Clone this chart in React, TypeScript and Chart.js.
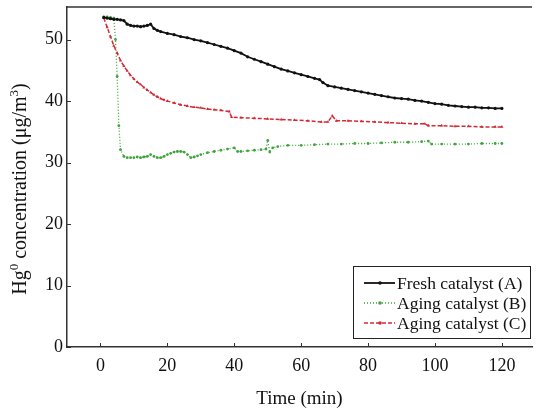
import React, { useEffect, useRef } from "react";
import { Chart, registerables } from "chart.js";

Chart.register(...registerables);

const xTicks = [0, 20, 40, 60, 80, 100, 120];
const yTicks = [0, 10, 20, 30, 40, 50];

const freshX = [1, 2, 3, 4, 5, 6, 7, 8, 9, 10, 11, 12, 13, 14, 15, 16, 17, 18, 20, 22, 24, 26, 28, 30, 32, 34, 36, 38, 40, 42, 44, 46, 48, 50, 52, 54, 56, 58, 60, 62, 64, 65.5, 66.5, 68, 70, 72, 74, 76, 78, 80, 82, 84, 86, 88, 90, 92, 94, 96, 98, 100, 102, 104, 106, 108, 110, 112, 114, 116, 118, 120];
const freshY = [53.6, 53.5, 53.4, 53.3, 53.3, 53.2, 53.1, 52.5, 52.3, 52.2, 52.2, 52.1, 52.2, 52.3, 52.5, 51.8, 51.5, 51.3, 51.0, 50.8, 50.5, 50.3, 50.0, 49.8, 49.5, 49.2, 48.9, 48.6, 48.2, 47.8, 47.2, 46.8, 46.4, 46.0, 45.6, 45.2, 44.9, 44.6, 44.3, 44.0, 43.7, 43.5, 43.0, 42.5, 42.3, 42.1, 41.9, 41.7, 41.5, 41.3, 41.1, 40.9, 40.7, 40.5, 40.4, 40.3, 40.1, 40.0, 39.8, 39.6, 39.5, 39.3, 39.2, 39.1, 39.0, 39.0, 38.9, 38.9, 38.8, 38.8];

const agingBX = [1, 2, 3, 4, 4.5, 5, 5.5, 6, 7, 8, 9, 10, 11, 12, 13, 14, 15, 16, 17, 18, 19, 20, 21, 22, 23, 24, 25, 26, 27, 28, 29, 30, 32, 34, 36, 38, 40, 41, 42, 44, 46, 48, 49.5, 50, 50.6, 51.5, 53, 56, 60, 64, 68, 72, 76, 80, 84, 88, 92, 96, 98, 99, 102, 106, 110, 114, 118, 120];
const agingBY = [53.7, 53.7, 53.6, 53.5, 50.0, 44.0, 36.0, 32.1, 31.0, 30.8, 30.8, 30.8, 30.9, 30.8, 30.9, 31.0, 31.3, 31.0, 30.8, 30.8, 31.0, 31.3, 31.5, 31.7, 31.8, 31.8, 31.7, 31.3, 30.8, 30.9, 31.1, 31.3, 31.6, 31.8, 32.0, 32.2, 32.4, 31.8, 31.8, 31.9, 32.0, 32.1, 32.2, 33.6, 31.7, 32.4, 32.6, 32.8, 32.8, 32.9, 33.0, 33.0, 33.1, 33.1, 33.2, 33.3, 33.3, 33.4, 33.5, 33.0, 33.0, 33.0, 33.0, 33.1, 33.1, 33.1];

const agingCX = [1, 2, 3, 4, 5, 6, 7, 8, 9, 10, 11, 12, 13, 14, 15, 16, 17, 18, 19, 20, 22, 24, 26, 28, 30, 32, 34, 36, 38.5, 39.2, 42, 46, 50, 54, 58, 62, 66, 68, 69.3, 70.5, 74, 78, 82, 86, 90, 94, 97, 98, 102, 106, 110, 114, 118, 120];
const agingCY = [53.5, 52.0, 50.5, 49.0, 47.8, 46.6, 45.7, 44.9, 44.2, 43.6, 43.1, 42.7, 42.2, 41.8, 41.4, 41.0, 40.7, 40.4, 40.2, 40.0, 39.7, 39.4, 39.2, 39.0, 38.9, 38.7, 38.6, 38.5, 38.3, 37.4, 37.3, 37.2, 37.1, 37.0, 36.9, 36.8, 36.6, 36.6, 37.6, 36.8, 36.8, 36.7, 36.6, 36.5, 36.4, 36.3, 36.3, 36.0, 36.0, 35.9, 35.9, 35.8, 35.8, 35.8];

const labels = ["Fresh catalyst (A)", "Aging catalyst (B)", "Aging catalyst (C)"];
const yTitleParts = [
  { t: "Hg", sup: false },
  { t: "0", sup: true },
  { t: " concentration (\u03bcg/m", sup: false },
  { t: "3", sup: true },
  { t: ")", sup: false },
];

const FONT = "'Liberation Serif', 'Times New Roman', serif";

function pts(xs: number[], ys: number[]) {
  return xs.map((x, i) => ({ x, y: ys[i] }));
}

const framePlugin = {
  id: "frame",
  afterDraw(chart: any) {
    const { ctx, chartArea, scales } = chart;
    const xs = scales.x;
    const ys = scales.y;
    ctx.save();
    ctx.strokeStyle = "#333";
    ctx.lineWidth = 1.5;
    ctx.beginPath();
    ctx.moveTo(chartArea.left, chartArea.top);
    ctx.lineTo(chartArea.right, chartArea.top);
    ctx.stroke();
    ctx.lineWidth = 1;
    xTicks.forEach((v) => {
      const px = Math.round(xs.getPixelForValue(v)) + 0.5;
      ctx.beginPath();
      ctx.moveTo(px, chartArea.bottom);
      ctx.lineTo(px, chartArea.bottom - 4);
      ctx.stroke();
    });
    yTicks.forEach((v) => {
      const py = Math.round(ys.getPixelForValue(v)) + 0.5;
      ctx.beginPath();
      ctx.moveTo(chartArea.left, py);
      ctx.lineTo(chartArea.left + 4, py);
      ctx.stroke();
    });

    // y-axis title with real superscripts
    const big = `20px ${FONT}`;
    const small = `13px ${FONT}`;
    let total = 0;
    yTitleParts.forEach((p) => {
      ctx.font = p.sup ? small : big;
      total += ctx.measureText(p.t).width;
    });
    ctx.save();
    ctx.translate(26, 189);
    ctx.rotate(-Math.PI / 2);
    ctx.fillStyle = "#111";
    ctx.textBaseline = "alphabetic";
    let cx = -total / 2;
    yTitleParts.forEach((p) => {
      ctx.font = p.sup ? small : big;
      ctx.fillText(p.t, cx, p.sup ? -8 : 0);
      cx += ctx.measureText(p.t).width;
    });
    ctx.restore();

    // legend
    const bx = 353, by = 266, bw = 177, bh = 72;
    ctx.fillStyle = "#fff";
    ctx.fillRect(bx, by, bw, bh);
    ctx.strokeStyle = "#222";
    ctx.lineWidth = 1;
    ctx.strokeRect(bx + 0.5, by + 0.5, bw, bh);
    ctx.font = `17.5px ${FONT}`;
    ctx.textBaseline = "middle";
    chart.data.datasets.forEach((ds: any, i: number) => {
      const cy = by + 17 + i * 20;
      ctx.save();
      ctx.strokeStyle = ds.borderColor;
      ctx.lineWidth = ds.borderWidth;
      ctx.setLineDash(ds.borderDash || []);
      ctx.beginPath();
      ctx.moveTo(364, cy);
      ctx.lineTo(395, cy);
      ctx.stroke();
      ctx.restore();
      ctx.fillStyle = ds.pointBackgroundColor;
      ctx.beginPath();
      ctx.arc(380, cy, 1.8, 0, Math.PI * 2);
      ctx.fill();
      ctx.fillStyle = "#111";
      ctx.fillText(ds.label, 397, cy + 1);
    });
    ctx.restore();
  },
};

export default function App() {
  const ref = useRef<HTMLCanvasElement | null>(null);
  useEffect(() => {
    if (!ref.current) return;
    const chart = new Chart(ref.current, {
      type: "line",
      data: {
        datasets: [
          {
            label: labels[0],
            data: pts(freshX, freshY),
            borderColor: "#111",
            backgroundColor: "#111",
            pointBackgroundColor: "#111",
            pointBorderColor: "#111",
            borderWidth: 1.8,
            pointRadius: 1.6,
            pointBorderWidth: 0,
            pointStyle: "circle",
            tension: 0,
          },
          {
            label: labels[1],
            data: pts(agingBX, agingBY),
            borderColor: "#3da53a",
            backgroundColor: "#3da53a",
            pointBackgroundColor: "#3da53a",
            pointBorderColor: "#3da53a",
            borderWidth: 1.3,
            borderDash: [1, 2],
            pointRadius: 1.4,
            pointBorderWidth: 0,
            pointStyle: "circle",
            tension: 0,
          },
          {
            label: labels[2],
            data: pts(agingCX, agingCY),
            borderColor: "#d42a36",
            backgroundColor: "#d42a36",
            pointBackgroundColor: "#d42a36",
            pointBorderColor: "#d42a36",
            borderWidth: 1.5,
            borderDash: [4, 2],
            pointRadius: 1.8,
            pointBorderWidth: 0,
            pointStyle: "triangle",
            tension: 0,
          },
        ],
      },
      options: {
        animation: false,
        responsive: false,
        layout: { padding: { top: 0, right: 0, left: 0, bottom: 0 } },
        plugins: {
          legend: { display: false },
          tooltip: { enabled: false },
        },
        scales: {
          x: {
            type: "linear",
            min: -10,
            max: 129,
            afterBuildTicks: (s: any) => {
              s.ticks = xTicks.map((v) => ({ value: v }));
            },
            afterFit: (s: any) => {
              s.height = 65;
            },
            grid: { display: false, drawTicks: false },
            border: { display: true, color: "#333", width: 1.5 },
            ticks: {
              padding: 8,
              color: "#111",
              font: { family: FONT, size: 18 },
              maxRotation: 0,
            },
            title: {
              display: true,
              text: "Time (min)",
              color: "#111",
              font: { family: FONT, size: 19 },
              padding: { top: 8, bottom: 2 },
            },
          },
          y: {
            type: "linear",
            min: 0,
            max: 55.3,
            afterBuildTicks: (s: any) => {
              s.ticks = yTicks.map((v) => ({ value: v }));
            },
            afterFit: (s: any) => {
              s.width = 67;
              s.paddingTop = 7;
              s.paddingBottom = 0;
            },
            grid: { display: false, drawTicks: false },
            border: { display: true, color: "#333", width: 1.5 },
            ticks: {
              padding: 4,
              color: "#111",
              font: { family: FONT, size: 18 },
            },
            title: { display: false },
          },
        },
      },
      plugins: [framePlugin],
    });
    return () => chart.destroy();
  }, []);
  return (
    <div style={{ position: "absolute", left: 0, top: 0, width: 536, height: 412, background: "#fff" }}>
      <canvas ref={ref} width={536} height={412} />
    </div>
  );
}
